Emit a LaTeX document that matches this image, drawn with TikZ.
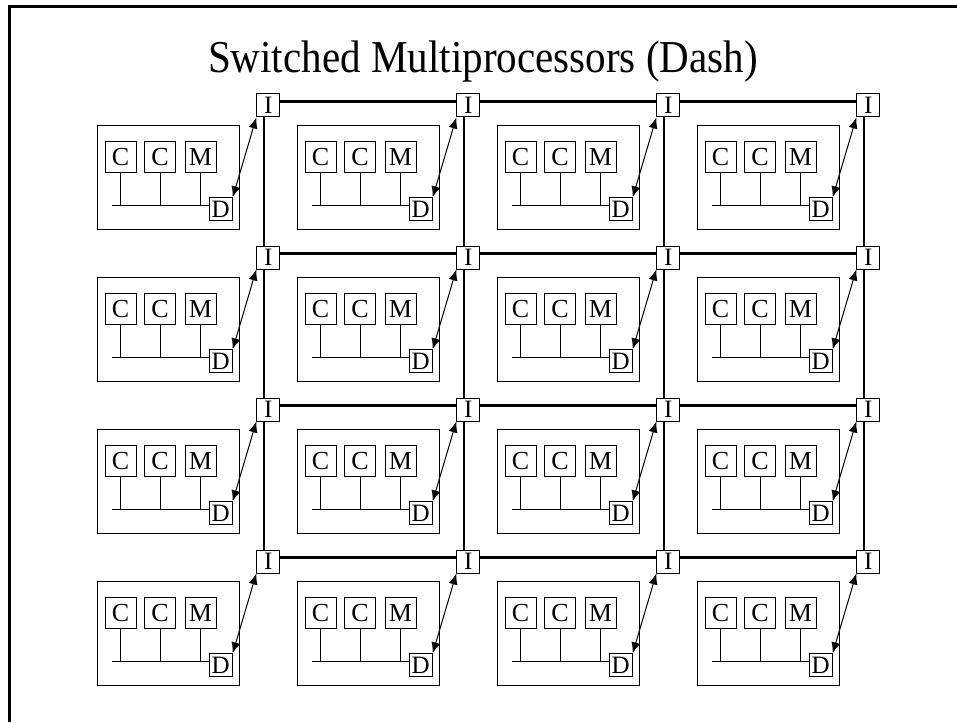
\documentclass[tikz,border=0pt]{standalone}
\usepackage{fontspec}
\setmainfont{Liberation Serif}
\usetikzlibrary{arrows.meta}
\begin{document}
\begin{tikzpicture}[x=1pt,y=-1pt,
  unit/.style={draw, line width=1pt, inner sep=0pt, minimum width=31pt, minimum height=31pt, font=\fontsize{26}{26}\selectfont},
  small/.style={draw, line width=1pt, inner sep=0pt, minimum width=23pt, minimum height=23pt, font=\fontsize{25}{25}\selectfont},
  cluster/.style={draw, line width=1pt, inner sep=0pt, minimum width=142pt, minimum height=103.3pt},
  wire/.style={line width=1pt},
  net/.style={line width=2.2pt},
  link/.style={line width=1pt, {Latex[length=11pt,width=9pt]}-{Latex[length=11pt,width=9pt]}},
  frame/.style={line width=3pt}
]
\useasboundingbox (0,0) rectangle (957,722);
\coordinate (fb) at (9.5,722);
\coordinate (fc) at (9.5,6.5);
\coordinate (fr) at (957,6.5);
\draw[frame] (fb) -- (fc) -- (fr);
\node[anchor=base, inner sep=0pt, font=\fontsize{41.5}{45}\selectfont] (title) at (483,73) {\scalebox{0.99}[1.1]{Switched Multiprocessors (Dash)}};
\foreach \r in {0,...,3}{
 \foreach \c in {0,...,3}{
  \pgfmathsetmacro\ox{200*\c}
  \pgfmathsetmacro\oy{152*\r}
  \begin{scope}[shift={(\ox,\oy)}]
   \node[cluster] (K-\r-\c) at (168,177.35) {};
   \node[unit] (Ca-\r-\c) at (120.5,157.2) {C};
   \node[unit] (Cb-\r-\c) at (160,157.2) {C};
   \node[unit] (M-\r-\c) at (200.5,157.2) {M};
   \node[small] (D-\r-\c) at (220.7,209.3) {D};
   \node[small] (I-\r-\c) at (268.3,105.5) {I};
   \coordinate (B-\r-\c) at (112,205);
   \draw[wire] (B-\r-\c) -- (B-\r-\c -| D-\r-\c.west);
   \draw[wire] (Ca-\r-\c.south) -- (Ca-\r-\c.south |- B-\r-\c);
   \draw[wire] (Cb-\r-\c.south) -- (Cb-\r-\c.south |- B-\r-\c);
   \draw[wire] (M-\r-\c.south) -- (M-\r-\c.south |- B-\r-\c);
   \draw[link] (D-\r-\c.north east) -- (I-\r-\c.south west);
  \end{scope}
 }
}
\foreach \r in {0,...,3}{
 \foreach \c/\n in {0/1,1/2,2/3}{
  \draw[net] ([yshift=4pt]I-\r-\c.east) -- ([yshift=4pt]I-\r-\n.west);
 }
}
\foreach \r/\s in {0/1,1/2,2/3}{
 \foreach \c in {0,...,3}{
  \draw[net] ([xshift=-4pt]I-\r-\c.south) -- ([xshift=-4pt]I-\s-\c.north);
 }
}
\end{tikzpicture}
\end{document}
